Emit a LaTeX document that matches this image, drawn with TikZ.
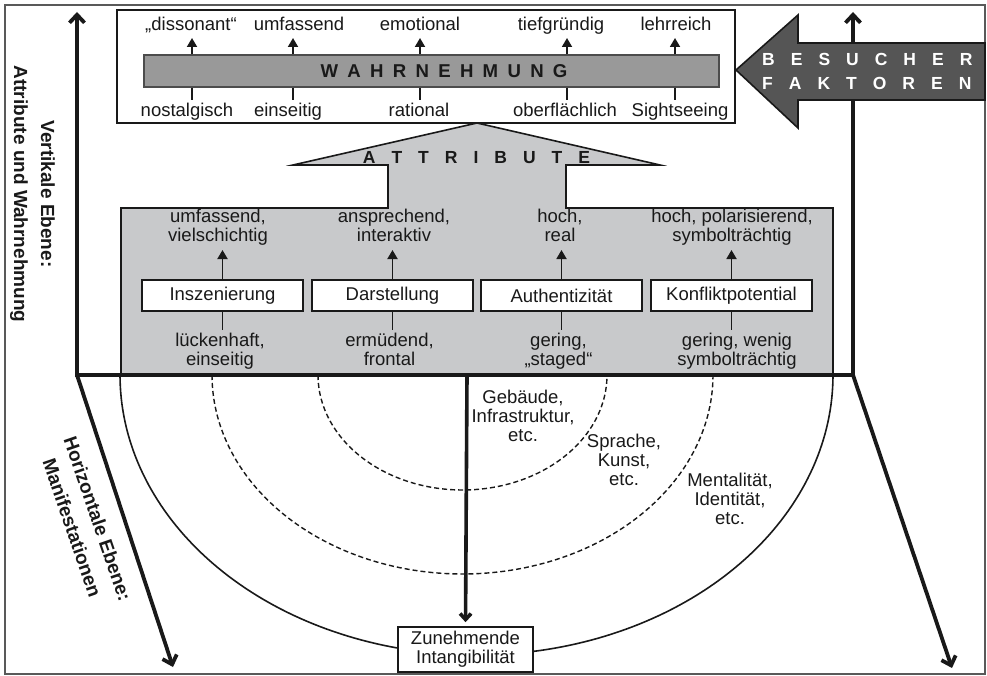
\documentclass[tikz,border=0pt]{standalone}
\usepackage{fontspec}
\setmainfont{Liberation Sans}
\usetikzlibrary{arrows.meta}
\definecolor{ink}{gray}{0.1}
\definecolor{framegray}{gray}{0.35}
\definecolor{barfill}{gray}{0.6}
\definecolor{barline}{gray}{0.3}
\definecolor{attrfill}{RGB}{200,201,203}
\definecolor{besfill}{RGB}{85,85,85}
\newcommand{\lblfont}{\fontsize{18.5pt}{19pt}\selectfont}
\newcommand{\wahrfont}{\bfseries\fontsize{18.6pt}{20pt}\selectfont\spaceskip 9.3pt\relax}
\newcommand{\attrfont}{\bfseries\fontsize{17.5pt}{19pt}\selectfont\spaceskip 16pt\relax}
\newcommand{\besfont}{\bfseries\fontsize{17.5pt}{19pt}\selectfont\spaceskip 16pt\relax}
\newcommand{\sidecapfont}{\bfseries\fontsize{19pt}{27pt}\selectfont}
\begin{document}
\begin{tikzpicture}[x=1pt,y=-1pt,line join=miter,
  lbl/.style={font=\lblfont, text=ink, inner sep=0pt},
  mlbl/.style={font=\lblfont, text=ink, inner sep=0pt, align=center},
  sarrow/.style={draw=ink, line width=1.8pt, -{Triangle[length=9pt,width=10pt]}},
  stub/.style={draw=ink, line width=1.8pt},
  axis/.style={draw=ink, line width=3.8pt},
  attrbox/.style={draw=ink, line width=1.6pt, fill=white, minimum width=161pt,
    minimum height=31pt, inner sep=0pt, font=\lblfont, text=ink},
  arcdash/.style={draw=ink, line width=1.4pt, dash pattern=on 5pt off 3pt},
  arcsolid/.style={draw=ink, line width=1.6pt},
  sidefont/.style={font=\sidecapfont, text=ink, align=center, inner sep=0pt}
]
\useasboundingbox (0,0) rectangle (987,676);

% outer frame
\draw[framegray, line width=1.2pt] (5,5) rectangle (985,674);

% ---------- perception box ----------
\node[draw=ink, line width=2pt, fill=white, minimum width=618pt, minimum height=113pt, inner sep=0pt]
  (percbox) at (426,66.5) {};
\node[draw=barline, line width=1.2pt, fill=barfill, minimum width=575pt, minimum height=32pt, inner sep=0pt]
  (wahr) at (431.5,71) {};
\node[font=\wahrfont, text=ink, inner sep=0pt] (wahrtxt) at (444,71) {W A H R N E H M U N G};

\coordinate (c1) at (192,0);
\coordinate (c2) at (293,0);
\coordinate (c3) at (420,0);
\coordinate (c4) at (567,0);
\coordinate (c5) at (675,0);

\node[lbl, anchor=base] (t1) at (191,31) {„dissonant“};
\node[lbl, anchor=base] (t2) at (299,31) {umfassend};
\node[lbl, anchor=base] (t3) at (420,31) {emotional};
\node[lbl, anchor=base] (t4) at (561,31) {tiefgründig};
\node[lbl, anchor=base] (t5) at (676,31) {lehrreich};

\node[lbl, anchor=base] (b1) at (187,117) {nostalgisch};
\node[lbl, anchor=base] (b2) at (288,117) {einseitig};
\node[lbl, anchor=base] (b3) at (419,117) {rational};
\node[lbl, anchor=base] (b4) at (565,117) {oberflächlich};
\node[lbl, anchor=base] (b5) at (680,117) {Sightseeing};

\foreach \i in {1,...,5}{
  \draw[sarrow, shorten >=7pt] (wahr.north -| c\i) -- (t\i.base -| c\i);
  \draw[stub, shorten >=3.5pt] (wahr.south -| c\i) -- (b\i.north -| c\i);
}

% ---------- attribute block with upward arrow ----------
\draw[draw=ink, line width=1.6pt, fill=attrfill]
  (121,208) -- (388,208) -- (388,165) -- (293,165) -- (477,123) -- (660,165)
  -- (566,165) -- (566,208) -- (833,208) -- (833,375) -- (121,375) -- cycle;
\node[font=\attrfont, text=ink, inner sep=0pt] (attrtxt) at (476.5,158) {A T T R I B U T E};

\node[attrbox] (ibox) at (222.5,295.5) {Inszenierung};
\node[attrbox] (dbox) at (392.5,295.5) {Darstellung};
\node[attrbox] (abox) at (561.5,295.5) {Authentizität};
\node[attrbox] (kbox) at (731.5,295.5) {Konfliktpotential};

\node[mlbl, anchor=south, text depth=0pt] (iup) at (218,242) {umfassend,\\vielschichtig};
\node[mlbl, anchor=south, text depth=0pt] (dup) at (394,242) {ansprechend,\\interaktiv};
\node[mlbl, anchor=south, text depth=0pt] (aup) at (560,242) {hoch,\\real};
\node[mlbl, anchor=south, text depth=0pt] (kup) at (732,242) {hoch, polarisierend,\\symbolträchtig};

\node[mlbl, anchor=north] (ilow) at (220,333) {lückenhaft,\\einseitig};
\node[mlbl, anchor=north] (dlow) at (389.5,333) {ermüdend,\\frontal};
\node[mlbl, anchor=north] (alow) at (558.5,333) {gering,\\„staged“};
\node[mlbl, anchor=north] (klow) at (737,333) {gering, wenig\\symbolträchtig};

\foreach \b/\u/\l in {ibox/iup/ilow, dbox/dup/dlow, abox/aup/alow, kbox/kup/klow}{
  \draw[sarrow, shorten >=8pt] (\b.north) -- (\b.north |- \u.south);
  \draw[stub, shorten >=3pt] (\b.south) -- (\b.south |- \l.north);
}

% ---------- manifestation arcs ----------
\draw[arcdash] plot[domain=180:360, samples=90] ({462.5+144.5*cos(\x)}, {375-115*sin(\x)});
\draw[arcdash] plot[domain=180:360, samples=120] ({462.5+250.5*cos(\x)}, {375-199*sin(\x)});
\draw[arcsolid] plot[domain=180:360, samples=150] ({476.5+356.5*cos(\x)}, {375-280*sin(\x)});

\node[mlbl] (geb) at (523,416) {Gebäude,\\Infrastruktur,\\etc.};
\node[mlbl] (spr) at (624,460) {Sprache,\\Kunst,\\etc.};
\node[mlbl] (men) at (730,499) {Mentalität,\\Identität,\\etc.};

% ---------- axes ----------
\coordinate (lt) at (77,12);
\coordinate (lc) at (77,375);
\coordinate (rc) at (853,375);
\coordinate (rt) at (853,12);
\coordinate (ld) at (173,667);
\coordinate (rd) at (952,668);
\coordinate (mc) at (467,375);

\draw[axis, {Straight Barb[length=8pt,width=15pt]}-{Straight Barb[length=8pt,width=15pt]}]
  (lt) -- (lc) -- (rc) -- (rt);
\draw[axis, -{Straight Barb[length=8pt,width=15pt]}] (lc) -- (ld);
\draw[axis, -{Straight Barb[length=8pt,width=15pt]}] (rc) -- (rd);

\node[draw=ink, line width=1.6pt, fill=white, minimum width=135pt, minimum height=45pt,
  inner sep=0pt, font=\lblfont, text=ink, align=center]
  (zbox) at (465.5,649.5) {Zunehmende\\Intangibilität};
\draw[axis, line width=3.6pt, -{Straight Barb[length=6pt,width=11pt]}, shorten >=4pt] (mc) -- (zbox.north);

% ---------- visitor factors arrow ----------
\draw[draw=ink, line width=1.6pt, fill=besfill]
  (736,70) -- (798,15) -- (798,43) -- (985,43) -- (985,100) -- (798,100) -- (798,128) -- cycle;
\node[font=\besfont, text=white, inner sep=0pt, anchor=west] (bes1) at (762,59) {B E S U C H E R};
\node[font=\besfont, text=white, inner sep=0pt, anchor=west] (bes2) at (762,83) {F A K T O R E N};

% ---------- axis captions ----------
\node[sidefont, rotate=-90] (vcap) at (32.5,194) {Vertikale Ebene:\\Attribute und Wahrnehmung};
\node[sidefont, rotate=-71] (hcap) at (85,523) {Horizontale Ebene:\\Manifestationen};
\end{tikzpicture}
\end{document}
